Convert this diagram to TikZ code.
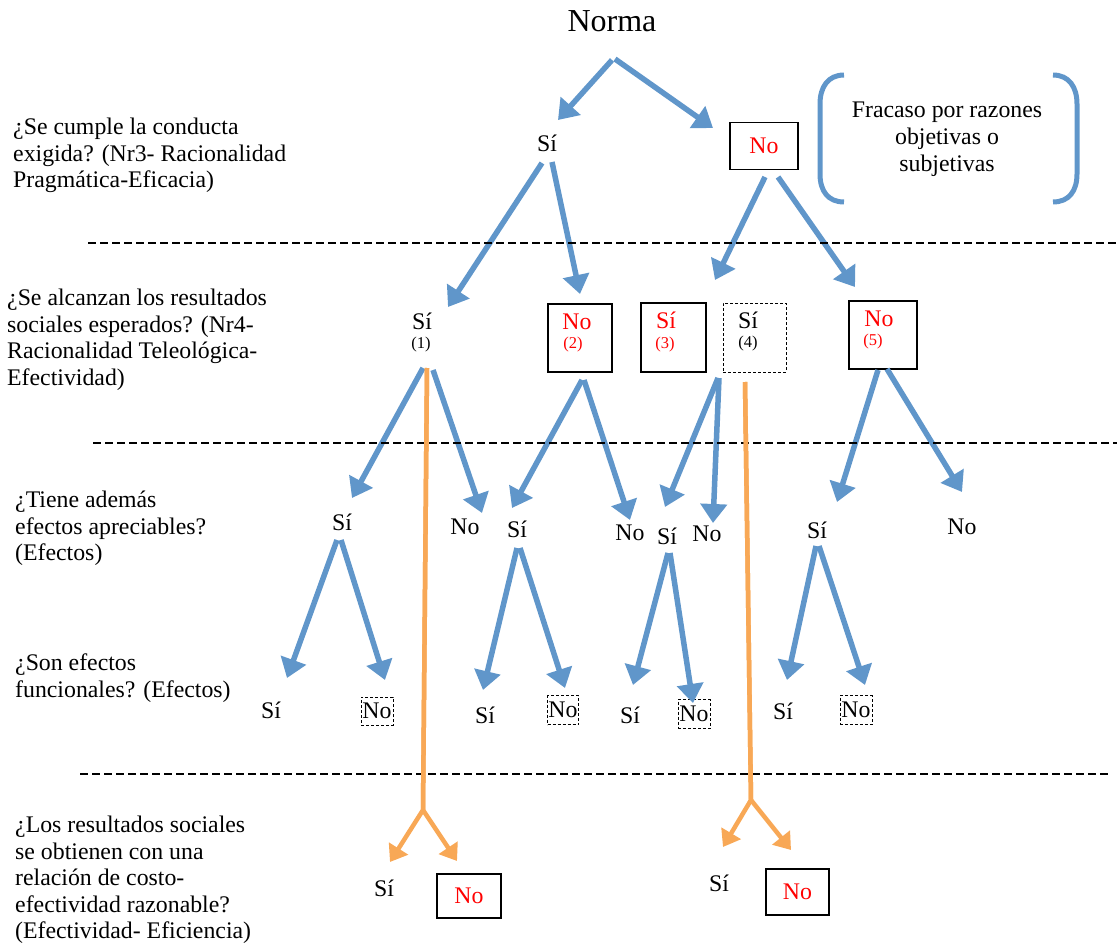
\documentclass[tikz,border=0pt]{standalone}
\usepackage{fontspec}
\setmainfont{Liberation Serif}
\usetikzlibrary{arrows.meta,calc}
\definecolor{myblue}{RGB}{96,150,202}
\definecolor{myorange}{RGB}{248,168,86}
\newcommand\myfs{\fontsize{23.8}{26.5}\selectfont}
\newcommand\mysmall{\fontsize{16.5}{18}\selectfont}
\begin{document}
\begin{tikzpicture}[x=1pt,y=-1pt,
 txt/.style={font=\myfs, inner sep=0pt},
 lbl/.style={font=\myfs, inner sep=0pt, anchor=north west, align=left},
 num/.style={font=\mysmall, inner sep=0pt},
 solidbox/.style={draw, line width=1.3pt, inner sep=0pt},
 dashbox/.style={draw, line width=0.9pt, dash pattern=on 3pt off 2pt, inner sep=0pt},
 barrow/.style={draw=myblue, line width=5.5pt, -{Triangle[length=19pt,width=26pt]}},
 oarrow/.style={draw=myorange, line width=4.5pt, line join=miter, -{Triangle[length=16pt,width=22pt]}},
 sepline/.style={line width=1.8pt, dash pattern=on 8pt off 4pt},
 bracket/.style={draw=myblue, line width=5pt}]
\useasboundingbox (0,0) rectangle (1117,944);

% left questions
\node[lbl] (q1) at (13,118) {¿Se cumple la conducta\\exigida? (Nr3- Racionalidad\\Pragmática-Eficacia)};
\node[lbl] (q2) at (7,289) {¿Se alcanzan los resultados\\sociales esperados? (Nr4-\\Racionalidad Teleológica-\\Efectividad)};
\node[lbl] (q3) at (15,491) {¿Tiene además\\efectos apreciables?\\(Efectos)};
\node[lbl] (q4) at (15,654) {¿Son efectos\\funcionales? (Efectos)};
\node[lbl] (q5) at (15,816) {¿Los resultados sociales\\se obtienen con una\\relación de costo-\\efectividad razonable?\\(Efectividad- Eficiencia)};

% level 0 / 1
\node[txt, font=\fontsize{32}{36}\selectfont] (norma) at (612,21) {Norma};
\node[txt] (s1) at (547,143) {Sí};
\node[txt, solidbox, minimum width=68pt, minimum height=47pt, text=red] (n1) at (764,146) {No};
\node[txt, align=center, font=\fontsize{23.8}{27}\selectfont] (fr) at (947,139) {Fracaso por razones\\objetivas o\\subjetivas};
\draw[bracket] (844,75) .. controls (828,75) and (820,87) .. (820,104) -- (820,174) .. controls (820,191) and (828,202) .. (844,202);
\draw[bracket] (1053,75) .. controls (1069,75) and (1077,87) .. (1077,104) -- (1077,174) .. controls (1077,191) and (1069,202) .. (1053,202);

% level 2
\node[txt] (s2a) at (422,321) {Sí};
\node[num] (s2an) at (421,345) {(1)};
\node[solidbox, minimum width=64pt, minimum height=68pt] (b2) at (580,338) {};
\node[txt, text=red] (t2) at (577,322) {No};
\node[num, text=red] (t2n) at (573,345) {(2)};
\node[solidbox, minimum width=65pt, minimum height=69pt] (b3) at (673.5,337.5) {};
\node[txt, text=red] (t3) at (666,320) {Sí};
\node[num, text=red] (t3n) at (665,345) {(3)};
\node[dashbox, minimum width=63pt, minimum height=69pt] (b4) at (754.5,337.5) {};
\node[txt] (t4) at (748,320) {Sí};
\node[num] (t4n) at (748,344) {(4)};
\node[solidbox, minimum width=68pt, minimum height=68pt] (b5) at (883,335) {};
\node[txt, text=red] (t5) at (879,319) {No};
\node[num, text=red] (t5n) at (873,342) {(5)};

% level 3
\node[txt] (s3a) at (342,522) {Sí};
\node[txt] (n3a) at (465,527) {No};
\node[txt] (s3b) at (517,529) {Sí};
\node[txt] (n3b) at (630,533) {No};
\node[txt] (s3c) at (667,536) {Sí};
\node[txt] (n3c) at (707,534) {No};
\node[txt] (s3d) at (817,530) {Sí};
\node[txt] (n3d) at (962,527) {No};

% level 4
\node[txt] (s4a) at (271,710) {Sí};
\node[txt, dashbox, minimum width=32pt, minimum height=28pt] (n4a) at (377,711) {No};
\node[txt] (s4b) at (485,715) {Sí};
\node[txt, dashbox, minimum width=31pt, minimum height=29pt] (n4b) at (563,710) {No};
\node[txt] (s4c) at (630,715) {Sí};
\node[txt, dashbox, minimum width=32pt, minimum height=29pt] (n4c) at (694,714) {No};
\node[txt] (s4d) at (783,711) {Sí};
\node[txt, dashbox, minimum width=32pt, minimum height=29pt] (n4d) at (856,710) {No};

% level 5
\node[txt] (s5a) at (384,888) {Sí};
\node[txt, solidbox, minimum width=64pt, minimum height=44pt, text=red] (n5a) at (469,896) {No};
\node[txt] (s5b) at (719,883) {Sí};
\node[txt, solidbox, minimum width=63pt, minimum height=46pt, text=red] (n5b) at (797.5,892) {No};

% blue arrows
\draw[barrow] ($(norma)+(0,39)$) -- ($(s1)+(11,-23)$);
\draw[barrow] ($(norma)+(3,38)$) -- ($(n1)+(-51,-18)$);
\draw[barrow] ($(s1)+(-5,20)$) -- ($(s2a)+(26,-14)$);
\draw[barrow] ($(s1)+(5,19)$) -- ($(b2)+(0,-44)$);
\draw[barrow] ($(n1)+(1,31)$) -- ($(b3)+(41.5,-57.5)$);
\draw[barrow] ($(n1)+(14,31)$) -- ($(b5)+(-28,-48)$);

\draw[barrow] ($(s2a)+(1,47)$) -- ($(s3a)+(10,-24)$);
\draw[barrow] ($(s2a)+(11,49)$) -- ($(n3a)+(17,-14)$);
\draw[barrow] ($(b2)+(2,42)$) -- ($(s3b)+(-5,-21)$);
\draw[barrow] ($(b2)+(4,42)$) -- ($(n3b)+(0,-13)$);
\draw[barrow] ($(b3)+(44.5,40.5)$) -- ($(s3c)+(-2,-29)$);
\draw[barrow] ($(b3)+(45.5,40.5)$) -- ($(n3c)+(6,-11)$);
\draw[barrow] ($(b5)+(-5,35)$) -- ($(s3d)+(20,-28)$);
\draw[barrow] ($(b5)+(4,34)$) -- ($(n3d)+(0,-35)$);

\draw[barrow] ($(s3a)+(-5,18)$) -- ($(s4a)+(16,-32)$);
\draw[barrow] ($(s3a)+(-1,18)$) -- ($(n4a)+(8,-31)$);
\draw[barrow] ($(s3b)+(0,19)$) -- ($(s4b)+(-2,-25)$);
\draw[barrow] ($(s3b)+(3,19)$) -- ($(n4b)+(2,-22)$);
\draw[barrow] ($(s3c)+(1,17)$) -- ($(s4c)+(3,-30)$);
\draw[barrow] ($(s3c)+(3,17)$) -- ($(n4c)+(-1,-11)$);
\draw[barrow] ($(s3d)+(-1,16)$) -- ($(s4d)+(4,-31)$);
\draw[barrow] ($(s3d)+(2,16)$) -- ($(n4d)+(9,-25)$);

% separators
\draw[sepline] (88,243) -- (1117,243);
\draw[sepline] (93,443) -- (1117,443);
\draw[sepline] (80,774) -- (1110,774);

% orange arrows
\coordinate (f1) at (423,810);
\coordinate (f2) at (751,800);
\draw[oarrow] ($(s2a)+(5,47)$) -- (f1) -- ($(s5a)+(6,-26)$);
\draw[oarrow] ($(s2a)+(5,47)$) -- (f1) -- ($(n5a)+(-12,-35)$);
\draw[oarrow] ($(b4)+(-9.5,44.5)$) -- (f2) -- ($(s5b)+(4,-36)$);
\draw[oarrow] ($(b4)+(-9.5,44.5)$) -- (f2) -- ($(n5b)+(-6.5,-42)$);
\end{tikzpicture}
\end{document}
